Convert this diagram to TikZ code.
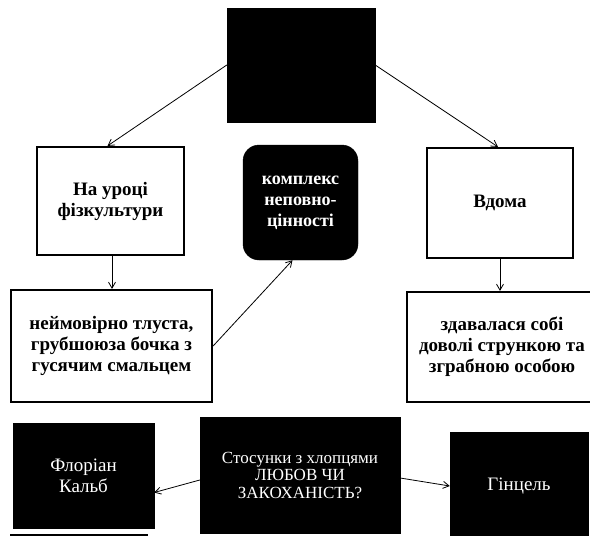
\documentclass[tikz,border=0pt]{standalone}
\usepackage{fontspec}
\setmainfont{Liberation Serif}
\usetikzlibrary{arrows.meta}
\begin{document}
\begin{tikzpicture}[x=1pt,y=-1pt,
  wbox/.style={draw=black,line width=2.2pt,fill=white,rectangle,align=center,
    font=\fontsize{19}{21}\selectfont\bfseries,inner sep=0pt},
  bbox/.style={draw=black,fill=black,rectangle,align=center,text=white,inner sep=0pt,
    font=\fontsize{17}{17.5}\selectfont},
  arr/.style={-{Straight Barb[length=6pt,width=7pt]},line width=0.8pt}]
\useasboundingbox (0,0) rectangle (590,536);
\node[bbox,minimum width=148pt,minimum height=114pt] (top) at (301,65) {};
\node[wbox,minimum width=147pt,minimum height=108pt] (lb) at (110.5,201) {На уроці\\фізкультури};
\node[bbox,rounded corners=16pt,minimum width=115pt,minimum height=115pt,
  font=\fontsize{18}{21}\selectfont\bfseries] (cx) at (300.5,202.5) {комплекс\\неповно-\\цінності};
\node[wbox,minimum width=146pt,minimum height=110pt] (vd) at (500,203) {Вдома};
\node[wbox,minimum width=201pt,minimum height=112pt] (bl) at (111.5,346) {неймовірно тлуста,\\грубшоюза бочка з\\гусячим смальцем};
\node[wbox,minimum width=190pt,minimum height=110pt] (br) at (502,347) {здавалася собі\\доволі стрункою та\\зграбною особою};
\node[bbox,minimum width=141pt,minimum height=105pt,font=\fontsize{19}{21}\selectfont] (fk) at (83.5,475.5) {Флоріан\\Кальб};
\node[bbox,minimum width=200pt,minimum height=116pt] (cs) at (300,475) {Стосунки з хлопцями\\ЛЮБОВ ЧИ\\ЗАКОХАНІСТЬ?};
\node[bbox,minimum width=138pt,minimum height=108pt,font=\fontsize{19}{21}\selectfont] (gz) at (519,486) {Гінцель};
\coordinate (ua) at (10,535);
\coordinate (ub) at (148,535);
\draw[arr] (top.west) -- ([xshift=-3pt]lb.north);
\draw[arr] (top.east) -- ([xshift=-2pt]vd.north);
\draw[arr] ([xshift=1.5pt]lb.south) -- ([xshift=0.5pt]bl.north);
\draw[arr] (vd.south) -- (vd.south |- br.north);
\draw[arr] (bl.east) -- ([xshift=-8pt]cx.south);
\draw[arr] ([yshift=-5pt]cs.west) -- ([yshift=-17pt]fk.east);
\draw[arr] ([yshift=-3pt]cs.east) -- (gz.west);
\draw[line width=2pt] (ua) -- (ub);
\end{tikzpicture}
\end{document}
